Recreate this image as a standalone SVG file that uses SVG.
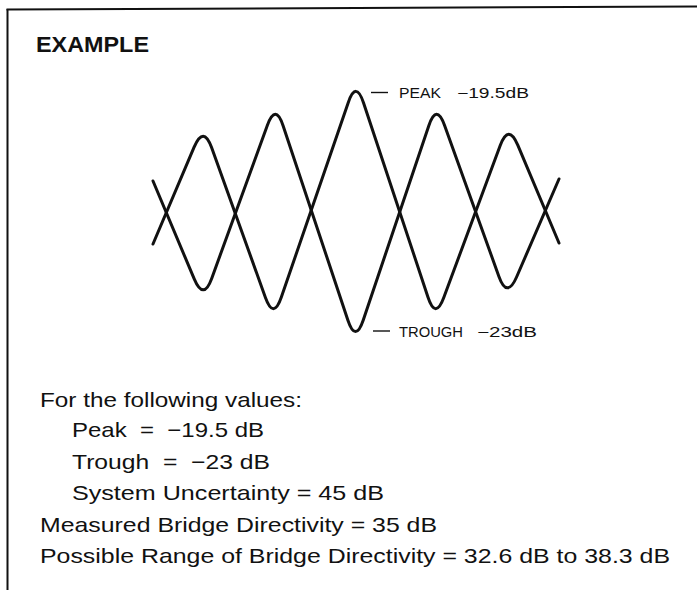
<svg xmlns="http://www.w3.org/2000/svg" width="697" height="590" viewBox="0 0 697 590">
  <style>
    .frame { stroke: #111; stroke-width: 2; fill: none; }
    .wave { stroke: #111; stroke-width: 3; fill: none; stroke-linejoin: round; stroke-linecap: round; }
    .tick { stroke: #111; stroke-width: 1.4; fill: none; }
    .lbl { font-family: "Liberation Sans", Arial, sans-serif; font-size: 14px; fill: #111; }
    .body { font-family: "Liberation Sans", Arial, sans-serif; font-size: 21px; fill: #111; }
    .title { font-family: "Liberation Sans", Arial, sans-serif; font-size: 21.5px; font-weight: bold; fill: #111; }
  </style>
  <rect width="697" height="590" fill="#ffffff"/>
  <g id="frame">
    <line class="frame" x1="7.5" y1="9" x2="7.5" y2="590"/>
    <line class="frame" x1="6.5" y1="9.5" x2="697" y2="6.5"/>
  </g>
  <g id="title">
    <text class="title" x="36" y="52" textLength="113" lengthAdjust="spacingAndGlyphs">EXAMPLE</text>
  </g>
  <g id="connectors">
    <path id="wave-a" class="wave" d="M153,181 L194.2,278.9 Q203.5,301 211.7,278.4 L267.3,125.6 Q275.5,103 283.1,125.8 L347.9,320.2 Q355.5,343 363.2,320.2 L428.8,125.8 Q436.5,103 444.6,125.6 L498.9,276.4 Q507,299 516.6,277 L559,179"/>
    <path id="wave-b" class="wave" d="M153,244 L194.1,147.1 Q203.5,125 211.6,147.6 L265.4,297.4 Q273.5,320 281.3,297.3 L348.2,102.7 Q356,80 363.5,102.8 L428,297.2 Q435.5,320 443.8,297.5 L500.2,145.5 Q508.5,123 517.8,145.1 L559,243"/>
    <line class="tick" x1="371" y1="92.5" x2="388" y2="92.5"/>
    <line class="tick" x1="373" y1="331" x2="390" y2="331"/>
  </g>
  <g id="peak-label">
    <text class="lbl" x="399" y="98" textLength="42" lengthAdjust="spacingAndGlyphs">PEAK</text>
    <text class="lbl" x="457" y="98" textLength="72" lengthAdjust="spacingAndGlyphs">−19.5dB</text>
  </g>
  <g id="trough-label">
    <text class="lbl" x="399" y="336.5" textLength="64" lengthAdjust="spacingAndGlyphs">TROUGH</text>
    <text class="lbl" x="477" y="336.5" textLength="60" lengthAdjust="spacingAndGlyphs">−23dB</text>
  </g>
  <g id="values">
    <text class="body" x="40" y="406.5" textLength="262" lengthAdjust="spacingAndGlyphs">For the following values:</text>
    <text class="body" x="72" y="437" textLength="192" lengthAdjust="spacingAndGlyphs" xml:space="preserve">Peak  =  −19.5 dB</text>
    <text class="body" x="72" y="468.5" textLength="198" lengthAdjust="spacingAndGlyphs" xml:space="preserve">Trough  =  −23 dB</text>
    <text class="body" x="72" y="500" textLength="312" lengthAdjust="spacingAndGlyphs">System Uncertainty = 45 dB</text>
    <text class="body" x="40" y="532" textLength="397" lengthAdjust="spacingAndGlyphs">Measured Bridge Directivity = 35 dB</text>
    <text class="body" x="40" y="563" textLength="630" lengthAdjust="spacingAndGlyphs">Possible Range of Bridge Directivity = 32.6 dB to 38.3 dB</text>
  </g>
</svg>
